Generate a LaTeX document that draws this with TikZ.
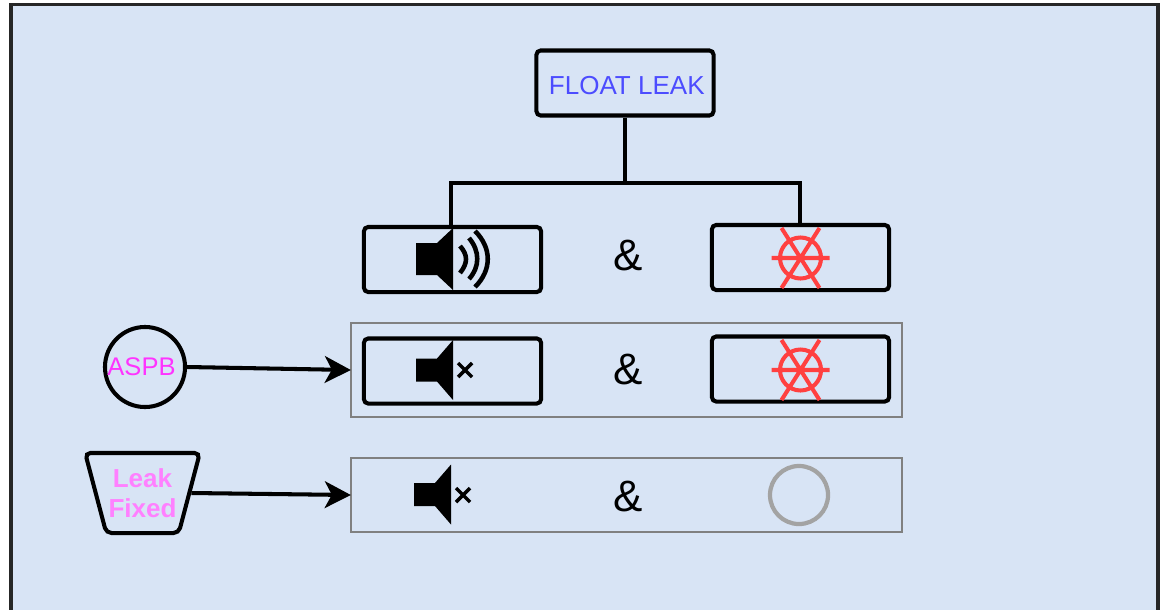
\documentclass[tikz,border=0pt]{standalone}
\usepackage{fontspec}
\setmainfont{Liberation Sans}
\usetikzlibrary{arrows.meta,shapes.geometric}
\definecolor{panelblue}{HTML}{D8E4F5}
\definecolor{floatblue}{HTML}{4C4CFF}
\definecolor{wheelred}{HTML}{FF4040}
\definecolor{aspbpink}{HTML}{FF33FF}
\definecolor{fixedpink}{HTML}{FF80FF}
\definecolor{framegray}{HTML}{808080}
\definecolor{ringgray}{HTML}{A3A3A3}
\tikzset{
	statebox/.style={draw, line width=1.15pt, rounded corners=1.2pt, inner sep=0pt,
		minimum width=1.77cm, minimum height=0.65cm},
	rowframe/.style={draw=framegray, line width=0.6pt, inner sep=0pt, outer sep=0pt, minimum width=5.51cm},
	andsign/.style={font=\fontsize{12.5}{14}\selectfont},
	link/.style={line width=1.15pt},
	push/.style={line width=1.15pt, -{Stealth[length=7.4pt, width=7.6pt, inset=2pt]}},
}
\newcommand{\hornbody}[4]{
	\fill (#1,#2-#3) -- ++(21,0) -- ++(16,-#4+#3) -- ++(0,2*#4) -- ++(-16,-#4+#3) -- ++(-21,0) -- cycle;
}
\newcommand{\hornmark}[2]{
	\draw [line width=1pt] (#1-7,#2-7) -- (#1+7,#2+7) (#1-7,#2+7) -- (#1+7,#2-7);
}
\newcommand{\wheelmark}[2]{
	\draw [wheelred, line width=1.15pt]
		(#1,#2) circle [radius=20.5]
		(#1-29,#2) -- (#1+29,#2)
		(#1-19,#2-30) -- (#1+19,#2+30)
		(#1-19,#2+30) -- (#1+19,#2-30);
}
\begin{document}
\begin{tikzpicture}[x=0.01cm, y=-0.01cm]
	\useasboundingbox (0,0) rectangle (1165,609);
	\draw [fill=panelblue, draw=black!85, line width=1pt] (11,4.5) rectangle (1158,625);
	\node [rowframe, minimum height=0.94cm] (frameB) at (626.5,370) {};
	\node [rowframe, minimum height=0.74cm] (frameC) at (626.5,495) {};
	\node [statebox, font=\fontsize{7.4}{9}\selectfont, text=floatblue, text depth=0pt] (top) at (625,83) {\raisebox{-1.5pt}{\hspace{1pt}FLOAT LEAK}};
	\node [statebox] (hornA) at (452.5,259.5) {};
	\node [statebox] (wheelA) at (800.5,257.5) {};
	\node [statebox] (hornB) at (452.5,371) {};
	\node [statebox] (wheelB) at (800.5,369) {};
	\node [andsign] (andA) at (628,256) {\&};
	\node [andsign] (andB) at (628,369) {\&};
	\node [andsign] (andC) at (628,496) {\&};
	\node [draw, circle, line width=1.15pt, minimum size=0.8cm, inner sep=0pt] (aspb) at (145,367) {};
	\node [font=\fontsize{7.25}{9}\selectfont, text=aspbpink] (aspbtext) at (141.5,367) {ASPB};
	\node [draw, trapezium, trapezium angle=68, shape border rotate=180, line width=1.15pt,
		rounded corners=1.5pt, inner sep=0pt, minimum width=1.15cm, minimum height=0.8cm,
		trapezium stretches=true, align=center, text=fixedpink,
		font=\bfseries\fontsize{7.4}{8.5}\selectfont] (leak) at (142.5,493) {Leak\\Fixed};
	\node [draw=ringgray, circle, line width=1.2pt, minimum size=0.58cm, inner sep=0pt] (ring) at (799,495) {};
	\coordinate (bus) at (625,183);
	\draw [link] (top) -- (bus);
	\draw [link] (hornA.north -| 451,0) |- (bus) -| (800,0 |- wheelA.north);
	\draw [push] (aspb.east) -- (frameB.west);
	\draw [push] (leak.east) -- (frameC.west);
	\hornbody{416}{259}{16}{31}
	\draw [line width=1.3pt] (460,246) .. controls (468,255) and (468,263) .. (460,273);
	\draw [line width=1.3pt] (469,238) .. controls (480,251) and (480,267) .. (469,279);
	\draw [line width=1.3pt] (475,231) .. controls (492,248) and (492,270) .. (475,287);
	\hornbody{416}{370}{11.5}{30}
	\hornmark{465}{370}
	\hornbody{414}{494.5}{11.5}{30}
	\hornmark{463}{495}
	\wheelmark{800.5}{258}
	\wheelmark{800.5}{370}
\end{tikzpicture}
\end{document}
